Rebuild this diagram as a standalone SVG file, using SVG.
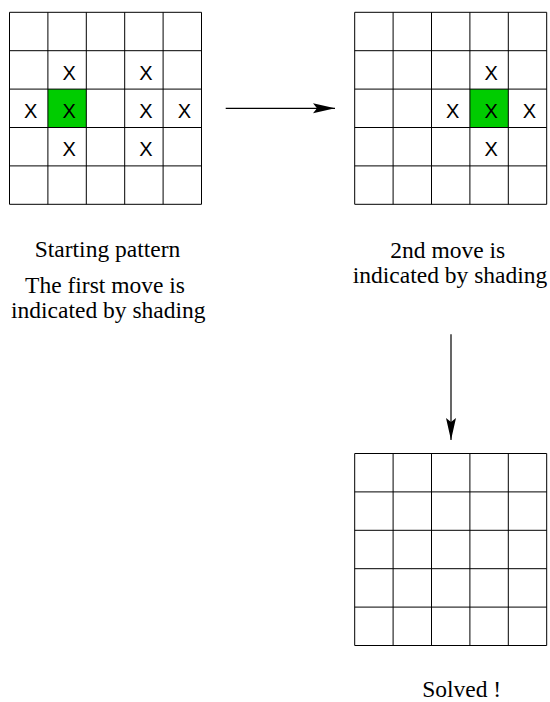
<svg xmlns="http://www.w3.org/2000/svg" width="550" height="702" viewBox="0 0 550 702">
<defs>
<marker id="ah" viewBox="0 0 22 12" refX="22" refY="6" markerWidth="22" markerHeight="12" markerUnits="userSpaceOnUse" orient="auto">
<path d="M0,1 L22,6 L0,11 L4,6 Z" fill="#000"/>
</marker>
<path id="gridlines" fill="none" stroke="#000" stroke-width="1" d="M0,0 H192 V192 H0 Z M38.4,0 V192 M76.8,0 V192 M115.2,0 V192 M153.6,0 V192 M0,38.4 H192 M0,76.8 H192 M0,115.2 H192 M0,153.6 H192"/>
</defs>

<g id="board1" transform="translate(9.5,12.3)">
<rect fill="#00cc00" x="38.4" y="76.8" width="38.4" height="38.4"/>
<use href="#gridlines"/>
<g font-family="Liberation Sans, Arial, sans-serif" font-size="20" text-anchor="middle" fill="#000">
<text x="59.6" y="67.4">X</text>
<text x="136.4" y="67.4">X</text>
<text x="21.2" y="105.8">X</text>
<text x="59.6" y="105.8">X</text>
<text x="136.4" y="105.8">X</text>
<text x="174.8" y="105.8">X</text>
<text x="59.6" y="144.2">X</text>
<text x="136.4" y="144.2">X</text>
</g>
</g>

<g id="board2" transform="translate(354.7,12.3)">
<rect fill="#00cc00" x="115.2" y="76.8" width="38.4" height="38.4"/>
<use href="#gridlines"/>
<g font-family="Liberation Sans, Arial, sans-serif" font-size="20" text-anchor="middle" fill="#000">
<text x="136.4" y="67.4">X</text>
<text x="98" y="105.8">X</text>
<text x="136.4" y="105.8">X</text>
<text x="174.8" y="105.8">X</text>
<text x="136.4" y="144.2">X</text>
</g>
</g>

<g id="board3" transform="translate(354.7,453.5)">
<use href="#gridlines"/>
</g>

<g font-family="Liberation Serif, Times New Roman, DejaVu Serif, serif" font-size="23.5" text-anchor="middle" fill="#000">
<g id="label1">
<text x="107.5" y="256.7">Starting pattern</text>
<text x="105" y="293.3">The first move is</text>
<text x="108.3" y="318.3">indicated by shading</text>
</g>
<g id="label2">
<text x="447.7" y="257.5">2nd move is</text>
<text x="450" y="283.3">indicated by shading</text>
</g>
<g id="label3">
<text x="461.7" y="697.3">Solved !</text>
</g>
</g>

<g id="connectors" stroke="#000" stroke-width="1.2" fill="none">
<line x1="225.7" y1="108.3" x2="335" y2="108.3" marker-end="url(#ah)"/>
<line x1="451" y1="334.3" x2="451" y2="440" marker-end="url(#ah)"/>
</g>
</svg>
